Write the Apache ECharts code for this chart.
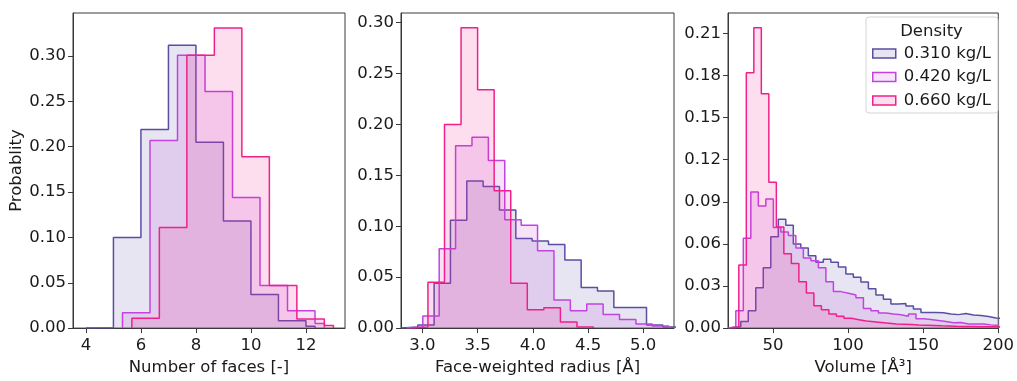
<!DOCTYPE html>
<html><head><meta charset="utf-8">
<script src="https://cdn.jsdelivr.net/npm/echarts@6/dist/echarts.min.js"></script>
<style>html,body{margin:0;padding:0;background:#fff}#c{width:1017px;height:381px}</style>
</head><body><div id="c"></div>
<script>
// ---------- data ----------
const seriesNames = ['0.310 kg/L', '0.420 kg/L', '0.660 kg/L'];

// Panel 1: Number of faces
const facesEdges031 = [4, 5, 6, 7, 8, 9, 10, 11, 12, 12.33];
const facesProb031  = [0.0005, 0.100, 0.219, 0.312, 0.205, 0.118, 0.037, 0.008, 0.002];
const facesEdges042 = [5.33, 6.33, 7.33, 8.33, 9.33, 10.33, 11.33, 12.33, 12.67];
const facesProb042  = [0.017, 0.207, 0.301, 0.261, 0.144, 0.047, 0.019, 0.005];
const facesEdges066 = [5.67, 6.67, 7.67, 8.67, 9.67, 10.67, 11.67, 12.67, 13.0];
const facesProb066  = [0.011, 0.111, 0.301, 0.331, 0.189, 0.047, 0.010, 0.003];

// Panel 2: Face-weighted radius (bin start, bin width, probabilities)
const radiusStart031 = 2.81,  radiusWidth031 = 0.148;
const radiusProb031 = [0.001, 0.003, 0.044, 0.106, 0.1446, 0.139, 0.116, 0.088, 0.0855, 0.082, 0.067, 0.040, 0.0365, 0.0203, 0.0203, 0.003, 0.001];
const radiusStart042 = 2.855, radiusWidth042 = 0.1485;
const radiusProb042 = [0.001, 0.012, 0.078, 0.179, 0.1875, 0.1646, 0.1065, 0.101, 0.076, 0.0275, 0.017, 0.0236, 0.0133, 0.0084, 0.004, 0.002];
const radiusStart066 = 2.90,  radiusWidth066 = 0.15;
const radiusProb066 = [0.001, 0.045, 0.200, 0.295, 0.234, 0.135, 0.044, 0.018, 0.020, 0.006, 0.001];

// Panel 3: Volume
const volumeStart031 = 23.5, volumeWidth031 = 5;
const volumeProb031 = [0.001, 0.0047, 0.0124, 0.0288, 0.043, 0.065, 0.0775, 0.0732, 0.060, 0.057, 0.0515, 0.047, 0.049, 0.047, 0.0435, 0.0386, 0.0363, 0.0328, 0.028, 0.0236, 0.0206, 0.0171, 0.0175, 0.0158, 0.0136, 0.0112, 0.0112, 0.011, 0.0101, 0.0096, 0.0104, 0.0093, 0.0089, 0.0082, 0.0072, 0.007];
const volumeStart042 = 20.2, volumeWidth042 = 5;
const volumeProb042 = [0.001, 0.0124, 0.064, 0.097, 0.087, 0.092, 0.0716, 0.0685, 0.066, 0.057, 0.050, 0.048, 0.043, 0.033, 0.026, 0.0248, 0.0236, 0.0217, 0.014, 0.0124, 0.0107, 0.010, 0.0095, 0.0084, 0.010, 0.0066, 0.0061, 0.0054, 0.0047, 0.0038, 0.0040, 0.0030, 0.0030, 0.0030, 0.0023, 0.0018];
const volumeStart066 = 22.2, volumeWidth066 = 5;
const volumeProb066 = [0.001, 0.045, 0.182, 0.214, 0.167, 0.104, 0.072, 0.053, 0.046, 0.033, 0.025, 0.016, 0.013, 0.010, 0.0085, 0.007, 0.006, 0.005, 0.0045, 0.004, 0.0035, 0.003, 0.0028, 0.0025, 0.0022, 0.002, 0.0018, 0.0016, 0.0015, 0.0013, 0.0012, 0.0011, 0.001, 0.001, 0.0009, 0.0008];

// Ticks
const facesTicks  = [4, 6, 8, 10, 12];
const radiusTicks = [3.0, 3.5, 4.0, 4.5, 5.0];
const volumeTicks = [50, 100, 150, 200];
const probTicksA  = [0, 0.05, 0.10, 0.15, 0.20, 0.25, 0.30];
const probTicksC  = [0, 0.03, 0.06, 0.09, 0.12, 0.15, 0.18, 0.21];

// ---------- helpers ----------
const colors = ['#5a4ea3', '#c243e0', '#f0208a'];
const fills  = ['rgba(90,78,163,0.15)', 'rgba(194,67,224,0.15)', 'rgba(240,32,138,0.15)'];
const FONT = 'DejaVu Sans';
const TXT = '#1a1a1a';
const FS = 16.5;

function edgesFrom(start, width, n) { const e = []; for (let i = 0; i <= n; i++) e.push(+(start + i * width).toFixed(4)); return e; }
function steps(edges, vals) {
  const pts = [[edges[0], 0]];
  for (let i = 0; i < vals.length; i++) { pts.push([edges[i], vals[i]]); pts.push([edges[i + 1], vals[i]]); }
  pts.push([edges[vals.length], 0]);
  return pts;
}

const panels = [
  { edges: [facesEdges031, facesEdges042, facesEdges066], vals: [facesProb031, facesProb042, facesProb066] },
  { edges: [edgesFrom(radiusStart031, radiusWidth031, radiusProb031.length), edgesFrom(radiusStart042, radiusWidth042, radiusProb042.length), edgesFrom(radiusStart066, radiusWidth066, radiusProb066.length)],
    vals: [radiusProb031, radiusProb042, radiusProb066] },
  { edges: [edgesFrom(volumeStart031, volumeWidth031, volumeProb031.length), edgesFrom(volumeStart042, volumeWidth042, volumeProb042.length), edgesFrom(volumeStart066, volumeWidth066, volumeProb066.length)],
    vals: [volumeProb031, volumeProb042, volumeProb066] }
];

const grids = [
  { left: 73, top: 13, width: 272, height: 320 },
  { left: 401, top: 13, width: 273, height: 320 },
  { left: 728, top: 13, width: 274, height: 320 }
].map(g => Object.assign(g, { show: true, borderColor: '#3a3a3a', borderWidth: 1, backgroundColor: 'transparent' }));

function xAxis(i, min, max, ticks, fmt, name) {
  return {
    type: 'value', gridIndex: i, min, max,
    name, nameLocation: 'middle', nameGap: 30,
    nameTextStyle: { fontFamily: FONT, fontSize: FS, color: TXT },
    axisLine: { show: true, onZero: false, lineStyle: { color: '#3a3a3a', width: 1 } },
    axisTick: { show: true, length: 5, customValues: ticks, lineStyle: { color: '#3a3a3a' } },
    axisLabel: { customValues: ticks, formatter: fmt, fontFamily: FONT, fontSize: FS, color: TXT, margin: 9 },
    splitLine: { show: false }
  };
}
function yAxis(i, max, ticks, name) {
  return {
    type: 'value', gridIndex: i, min: 0, max,
    name: name || '', nameLocation: 'middle', nameGap: 43,
    nameTextStyle: { fontFamily: FONT, fontSize: FS, color: TXT },
    axisLine: { show: true, lineStyle: { color: '#3a3a3a', width: 1 } },
    axisTick: { show: true, length: 5, customValues: ticks, lineStyle: { color: '#3a3a3a' } },
    axisLabel: { customValues: ticks, formatter: v => v.toFixed(2), fontFamily: FONT, fontSize: FS, color: TXT, margin: 7 },
    splitLine: { show: false }
  };
}

const series = [];
panels.forEach((p, pi) => {
  for (let s = 0; s < 3; s++) {
    series.push({
      type: 'line', name: seriesNames[s], xAxisIndex: pi, yAxisIndex: pi,
      data: steps(p.edges[s], p.vals[s]),
      showSymbol: false, symbol: 'none', clip: true,
      lineStyle: { color: colors[s], width: 1.5 },
      itemStyle: { color: colors[s] },
      areaStyle: { color: fills[s], opacity: 1 },
      z: 2 + s
    });
  }
});

const chart = echarts.init(document.getElementById('c'), null, { renderer: 'canvas' });
chart.setOption({
  animation: false,
  backgroundColor: '#fff',
  grid: grids,
  xAxis: [
    xAxis(0, 3.53, 13.42, facesTicks, v => String(v), 'Number of faces [-]'),
    xAxis(1, 2.806, 5.279, radiusTicks, v => v.toFixed(1), 'Face-weighted radius [Å]'),
    xAxis(2, 20, 200, volumeTicks, v => String(v), 'Volume [Å³]')
  ],
  yAxis: [
    yAxis(0, 0.3475, probTicksA, 'Probablity'),
    yAxis(1, 0.3095, probTicksA),
    yAxis(2, 0.2245, probTicksC)
  ],
  legend: {
    left: 872, top: 45, orient: 'vertical', padding: 0, itemGap: 6.5,
    itemWidth: 23, itemHeight: 9,
    textStyle: { fontFamily: FONT, fontSize: FS, color: TXT, padding: [0, 0, 0, 3] },
    data: seriesNames.map((n, i) => ({ name: n, icon: 'rect', itemStyle: { color: fills[i], borderColor: colors[i], borderWidth: 1.5 } })),
    z: 10
  },
  graphic: [
    { type: 'rect', shape: { x: 866, y: 17, width: 132, height: 96, r: 3 }, style: { fill: 'rgba(255,255,255,0.85)', stroke: '#d4d4d4', lineWidth: 1 }, z: 8 },
    { type: 'text', x: 931.5, y: 32, style: { text: 'Density', font: FS + 'px "DejaVu Sans"', fill: TXT, textAlign: 'center', textVerticalAlign: 'middle' }, z: 9 }
  ],
  series
});
</script>
</body></html>
